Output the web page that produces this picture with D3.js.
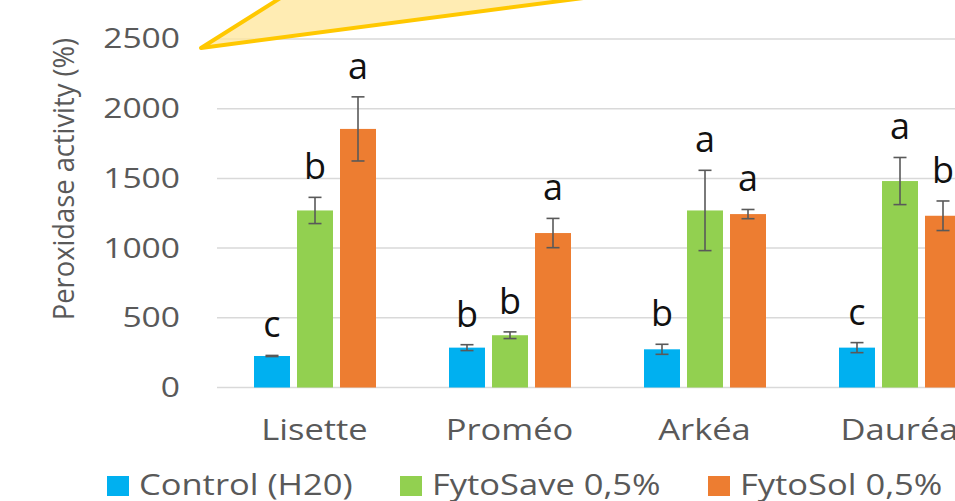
<!DOCTYPE html>
<html>
<head>
<meta charset="utf-8">
<script src="https://cdn.jsdelivr.net/npm/d3@7"></script>
<style>
  body { margin: 0; background: #fff; }
  svg { display: block; }
  text { font-family: "Open Sans", sans-serif; }
</style>
</head>
<body>
<div id="container"></div>
<script>
// data
var categories = ["Lisette", "Proméo", "Arkéa", "Dauréa"];
var series = ["Control (H20)", "FytoSave 0,5%", "FytoSol 0,5%"];
var colors = ["#00b0f0", "#92d050", "#ed7d31"];
// mean values, one array per series (same order as categories)
var controlValues = [226, 286, 274, 286];
var fytoSaveValues = [1270, 375, 1270, 1481];
var fytoSolValues = [1855, 1108, 1244, 1232];
// error (+/-)
var controlErr = [4, 21, 36, 36];
var fytoSaveErr = [94, 24, 288, 169];
var fytoSolErr = [230, 105, 33, 106];
// significance letters
var controlLetters = ["c", "b", "b", "c"];
var fytoSaveLetters = ["b", "b", "a", "a"];
var fytoSolLetters = ["a", "a", "a", "b"];
var yTicks = [0, 500, 1000, 1500, 2000, 2500];

var W = 955, H = 501;
var svg = d3.select("#container").append("svg")
  .attr("width", W)
  .attr("height", H);

// scales
var x0 = d3.scaleBand()
  .domain(categories)
  .range([217, 217 + 195 * categories.length])
  .padding(0);

var x1 = d3.scaleBand()
  .domain(series)
  .range([37, 159])
  .paddingInner(0.163)
  .paddingOuter(0);

var y = d3.scaleLinear()
  .domain([0, 2500])
  .range([387.5, 39]);

// gridlines
svg.append("g").selectAll("line")
  .data(yTicks)
  .enter().append("line")
  .attr("x1", 217)
  .attr("x2", W)
  .attr("y1", function(d) { return y(d); })
  .attr("y2", function(d) { return y(d); })
  .attr("stroke", "#d9d9d9")
  .attr("stroke-width", 1.5);

// y axis labels
var yAxis = d3.axisLeft(y).tickValues(yTicks).tickSize(0).tickPadding(0)
  .tickFormat(d3.format("d"));
var ya = svg.append("g")
  .attr("transform", "translate(180,0)")
  .call(yAxis);
ya.select(".domain").remove();
ya.selectAll("text")
  .attr("fill", "#595959")
  .style("font-size", "28px")
  .attr("font-family", "Open Sans")
  .attr("transform", "scale(1.2,1)");

// y title
svg.append("text")
  .attr("transform", "translate(63,179) rotate(-90) scale(0.91,1)")
  .attr("text-anchor", "middle")
  .attr("dy", "0.36em")
  .attr("fill", "#595959")
  .style("font-size", "30px")
  .text("Peroxidase activity (%)");

// build rows
var rows = categories.map(function(c, i) {
  return [
    { cat: c, s: series[0], v: controlValues[i], e: controlErr[i], l: controlLetters[i], col: colors[0] },
    { cat: c, s: series[1], v: fytoSaveValues[i], e: fytoSaveErr[i], l: fytoSaveLetters[i], col: colors[1] },
    { cat: c, s: series[2], v: fytoSolValues[i], e: fytoSolErr[i], l: fytoSolLetters[i], col: colors[2] }
  ];
});

var groups = svg.append("g").selectAll("g")
  .data(rows)
  .enter().append("g")
  .attr("transform", function(d, i) { return "translate(" + x0(categories[i]) + ",0)"; });

groups.selectAll("rect")
  .data(function(d) { return d; })
  .enter().append("rect")
  .attr("x", function(d) { return x1(d.s); })
  .attr("y", function(d) { return y(d.v); })
  .attr("width", x1.bandwidth())
  .attr("height", function(d) { return y(0) - y(d.v); })
  .attr("fill", function(d) { return d.col; });

// error bars
var eb = groups.selectAll("g.err")
  .data(function(d) { return d; })
  .enter().append("g")
  .attr("class", "err")
  .attr("stroke", "#595959")
  .attr("stroke-width", 1.6);

function cx(d) { return x1(d.s) + x1.bandwidth() / 2; }

eb.append("line")
  .attr("x1", cx).attr("x2", cx)
  .attr("y1", function(d) { return y(d.v + d.e); })
  .attr("y2", function(d) { return y(d.v - d.e); });
eb.append("line")
  .attr("x1", function(d) { return cx(d) - 6.5; })
  .attr("x2", function(d) { return cx(d) + 6.5; })
  .attr("y1", function(d) { return y(d.v + d.e); })
  .attr("y2", function(d) { return y(d.v + d.e); });
eb.append("line")
  .attr("x1", function(d) { return cx(d) - 6.5; })
  .attr("x2", function(d) { return cx(d) + 6.5; })
  .attr("y1", function(d) { return y(d.v - d.e); })
  .attr("y2", function(d) { return y(d.v - d.e); });

// letters
groups.selectAll("text.letter")
  .data(function(d) { return d; })
  .enter().append("text")
  .attr("class", "letter")
  .attr("x", cx)
  .attr("y", function(d) { return y(d.v + d.e) - 18; })
  .attr("text-anchor", "middle")
  .attr("fill", "#111")
  .style("font-size", "36px")
  .text(function(d) { return d.l; });

// category labels
svg.append("g").selectAll("text")
  .data(categories)
  .enter().append("text")
  .attr("transform", function(d) {
    return "translate(" + (x0(d) + x0.bandwidth() / 2) + ",440) scale(1.15,1)";
  })
  .attr("text-anchor", "middle")
  .attr("fill", "#595959")
  .style("font-size", "30px")
  .text(function(d) { return d; });

// legend
var legendX = [107, 400, 708];
var lg = svg.append("g").selectAll("g")
  .data(series)
  .enter().append("g")
  .attr("transform", function(d, i) { return "translate(" + legendX[i] + ",476)"; });
lg.append("rect")
  .attr("width", 22)
  .attr("height", 20)
  .attr("fill", function(d, i) { return colors[i]; });
lg.append("text")
  .attr("transform", "translate(32,19) scale(1.15,1)")
  .attr("fill", "#595959")
  .style("font-size", "30px")
  .text(function(d) { return d; });

// callout triangle (decoration)
svg.append("polygon")
  .attr("points", "201,48 309,-20 721,-20")
  .attr("fill", "#ffe699")
  .attr("fill-opacity", 0.75)
  .attr("stroke", "#ffc800")
  .attr("stroke-width", 4)
  .attr("stroke-linejoin", "round");
</script>
</body>
</html>
